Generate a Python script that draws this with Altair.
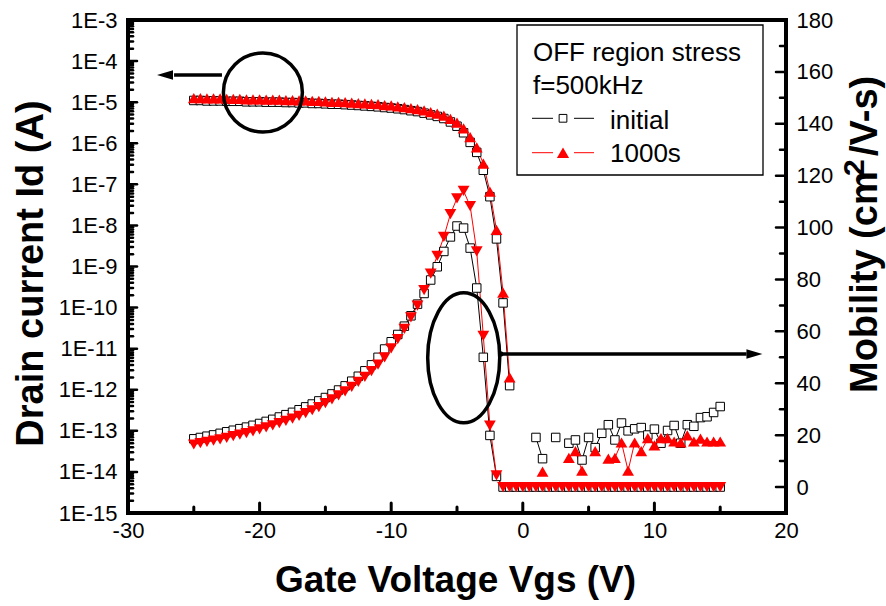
import altair as alt
import pandas as pd

# ---------------- data ----------------
VGS = [-25.0, -24.5, -24.0, -23.5, -23.0, -22.5, -22.0, -21.5, -21.0, -20.5,
       -20.0, -19.5, -19.0, -18.5, -18.0, -17.5, -17.0, -16.5, -16.0, -15.5,
       -15.0, -14.5, -14.0, -13.5, -13.0, -12.5, -12.0, -11.5, -11.0, -10.5,
       -10.0, -9.5, -9.0, -8.5, -8.0, -7.5, -7.0, -6.5, -6.0, -5.5,
       -5.0, -4.5, -4.0, -3.5, -3.0, -2.5, -2.0, -1.5, -1.0, -0.5,
       0.0, 0.5, 1.0, 1.5, 2.0, 2.5, 3.0, 3.5, 4.0, 4.5,
       5.0, 5.5, 6.0, 6.5, 7.0, 7.5, 8.0, 8.5, 9.0, 9.5,
       10.0, 10.5, 11.0, 11.5, 12.0, 12.5, 13.0, 13.5, 14.0, 14.5, 15.0]

ID_INITIAL = [1.10e-5, 1.10e-5, 1.07e-5, 1.07e-5, 1.07e-5, 1.05e-5, 1.05e-5, 1.05e-5, 1.02e-5, 1.02e-5,
              1.02e-5, 1.00e-5, 1.00e-5, 1.00e-5, 9.8e-6, 9.8e-6, 9.6e-6, 9.6e-6, 9.3e-6, 9.3e-6,
              9.1e-6, 8.9e-6, 8.9e-6, 8.7e-6, 8.5e-6, 8.3e-6, 8.1e-6, 7.9e-6, 7.7e-6, 7.4e-6,
              7.2e-6, 6.9e-6, 6.6e-6, 6.2e-6, 5.9e-6, 5.4e-6, 4.9e-6, 4.5e-6, 4.0e-6, 3.3e-6,
              2.6e-6, 1.8e-6, 1.05e-6, 6.0e-7, 2.2e-7, 5.0e-8, 4.7e-9, 1.3e-10, 1.26e-12, None,
              None, None, 6.9e-14, 2.1e-14, None, 6.9e-14, None, 5.0e-14, 6.0e-14, 1.95e-14,
              6.9e-14, 3.9e-14, 8.7e-14, 1.41e-13, 6.0e-14, 1.55e-13, 1.0e-13, 1.12e-13, 1.2e-13, 7.9e-14,
              1.1e-13, 5.0e-14, 1.02e-13, 1.35e-13, 5.0e-14, 1.41e-13, 1.29e-13, 2.1e-13, 2.2e-13, 2.8e-13, 3.9e-13]

ID_1000S = [1.26e-5, 1.26e-5, 1.23e-5, 1.23e-5, 1.23e-5, 1.20e-5, 1.20e-5, 1.20e-5, 1.17e-5, 1.17e-5,
            1.17e-5, 1.15e-5, 1.15e-5, 1.15e-5, 1.12e-5, 1.12e-5, 1.10e-5, 1.10e-5, 1.07e-5, 1.07e-5,
            1.05e-5, 1.02e-5, 1.02e-5, 1.00e-5, 9.8e-6, 9.5e-6, 9.3e-6, 9.1e-6, 8.9e-6, 8.5e-6,
            8.3e-6, 7.9e-6, 7.6e-6, 7.2e-6, 6.8e-6, 6.3e-6, 5.75e-6, 5.25e-6, 4.7e-6, 3.9e-6,
            3.16e-6, 2.3e-6, 1.41e-6, 7.9e-7, 3.2e-7, 6.6e-8, 7.8e-9, 2.3e-10, 2.0e-12, None,
            None, None, None, 1.02e-14, None, None, None, 2.2e-14, 3.2e-14, 1.07e-14,
            None, 3.2e-14, None, 2.1e-14, 2.2e-14, 5.2e-14, 1.07e-14, 5.2e-14, 3.2e-14, 6.6e-14,
            4.4e-14, 6.6e-14, 6.6e-14, 5.5e-14, 5.2e-14, 7.8e-14, 5.5e-14, 6.5e-14, 5.5e-14, 5.5e-14, 5.5e-14]

MU_INITIAL = [18.6, 19.1, 19.6, 20.1, 20.7, 21.3, 21.9, 22.5, 23.1, 23.8,
              24.5, 25.3, 26.1, 27.0, 27.9, 28.8, 29.8, 30.9, 32.0, 33.2,
              34.5, 35.9, 37.4, 39.0, 40.8, 42.7, 44.8, 47.1, 50.0, 53.2,
              56.0, 58.8, 62.0, 66.0, 70.5, 74.6, 79.8, 84.9, 90.8, 96.4,
              100.6, 99.8, 92.1, 76.7, 50.0, 19.9, 4.1, 0, 0, 0,
              0, 0, 0, 0, 0, 0, 0, 0, 0, 0,
              0, 0, 0, 0, 0, 0, 0, 0, 0, 0,
              0, 0, 0, 0, 0, 0, 0, 0, 0, 0, 0]

MU_1000S = [16.4, 16.9, 17.4, 17.9, 18.4, 19.0, 19.6, 20.2, 20.8, 21.5,
            22.2, 23.0, 23.8, 24.6, 25.5, 26.4, 27.4, 28.5, 29.6, 30.8,
            32.3, 33.8, 35.3, 36.9, 38.6, 40.5, 42.5, 44.7, 47.2, 50.0,
            53.4, 57.0, 61.0, 65.4, 69.9, 75.9, 82.3, 89.1, 96.4, 105.2,
            111.3, 114.1, 108.3, 90.8, 58.3, 23.7, 4.5, 0, 0, 0,
            0, 0, 0, 0, 0, 0, 0, 0, 0, 0,
            0, 0, 0, 0, 0, 0, 0, 0, 0, 0,
            0, 0, 0, 0, 0, 0, 0, 0, 0, 0, 0]

SERIES = ["initial", "1000s"]
LEGEND_TITLE = ["OFF region stress", "f=500kHz"]
X_TITLE = "Gate Voltage Vgs (V)"
Y_LEFT_TITLE = "Drain current Id (A)"
# right title split so that the "2" can be drawn as a superscript
Y_RIGHT_TITLE_PARTS = ["Mobility  (cm", "2", "/V-s)"]

X_TICKS = [-30, -20, -10, 0, 10, 20]
X_MINOR = [-25, -15, -5, 5, 15]
ID_DECADES = [1e-15, 1e-14, 1e-13, 1e-12, 1e-11, 1e-10, 1e-9, 1e-8, 1e-7, 1e-6, 1e-5, 1e-4, 1e-3]
ID_MINOR = [m * d for d in ID_DECADES[:-1] for m in range(2, 10)]
MU_TICKS = [0, 20, 40, 60, 80, 100, 120, 140, 160, 180]
MU_MINOR = [10, 30, 50, 70, 90, 110, 130, 150, 170]

# annotations (data coordinates)
CIRCLE_AT = {"V": [-19.75], "Id": [1.72e-5]}
ELLIPSE_AT = {"V": [-4.49], "Id": [6.0e-12]}
LEFT_ARROW = {"V": [-22.86], "V2": [-26.5], "Id": [4.6e-5], "head": [-27.19]}
RIGHT_ARROW = {"V": [-1.68], "V2": [17.0], "Id": [7.4e-12], "head": [17.6]}

W, H = 658, 493
FONT = "Liberation Sans"
RED = "#ff0000"

# ---------------- helpers ----------------
def segments(xs, ys, name):
    rows, seg, prev = [], 0, False
    for x, y in zip(xs, ys):
        if y is None:
            if prev:
                seg += 1
            prev = False
            continue
        rows.append({"V": x, "val": y, "seg": f"{name}-{seg}"})
        prev = True
    return pd.DataFrame(rows)

xscale = alt.Scale(domain=[-30, 20], nice=False, zero=False)
idscale = alt.Scale(type="log", domain=[1e-15, 1e-3], nice=False)
muscale = alt.Scale(domain=[-10, 180], nice=False, zero=False)

x_axis = alt.Axis(
    values=X_TICKS, labelExpr="'' + datum.value", labelFontSize=22, labelPadding=7,
    labelFlush=False, grid=False, ticks=False, domain=False,
    title=X_TITLE, titleFontSize=37, titleFontWeight="bold",
    titleX=327, titleY=78, titleBaseline="alphabetic", titleAlign="center")

id_axis = alt.Axis(orient="left", values=ID_DECADES,
                   labelExpr="'1E' + round(log(datum.value) / LN10)",
                   labelFontSize=22, labelPadding=11, labelFlush=False,
                   grid=False, ticks=False, domain=False,
                   title=Y_LEFT_TITLE, titleFontSize=38, titleFontWeight="bold",
                   titleAngle=270, titleX=-86, titleY=253,
                   titleBaseline="alphabetic", titleAlign="center")
mu_axis = alt.Axis(orient="right", values=MU_TICKS, labelExpr="'' + datum.value",
                   labelFontSize=22, labelPadding=10, labelFlush=False,
                   grid=False, ticks=False, domain=False, title="")

d_id_init = segments(VGS, ID_INITIAL, "ii")
d_id_1000 = segments(VGS, ID_1000S, "i1")
d_mu_init = segments(VGS, MU_INITIAL, "mi")
d_mu_1000 = segments(VGS, MU_1000S, "m1")

def line(df, scale, color, axis=None, xaxis=None):
    return alt.Chart(df).mark_line(color=color, strokeWidth=1).encode(
        x=alt.X("V:Q", scale=xscale, axis=xaxis),
        y=alt.Y("val:Q", scale=scale, axis=axis),
        detail="seg:N")

def squares(df, scale):
    return alt.Chart(df).mark_point(shape="square", filled=True, fill="white",
                                    stroke="black", strokeWidth=1, size=72, opacity=1).encode(
        x=alt.X("V:Q", scale=xscale, axis=None), y=alt.Y("val:Q", scale=scale, axis=None))

def triangles(df, scale, shape):
    return alt.Chart(df).mark_point(shape=shape, filled=True, color=RED, size=140,
                                    opacity=1, strokeWidth=0).encode(
        x=alt.X("V:Q", scale=xscale, axis=None), y=alt.Y("val:Q", scale=scale, axis=None))

def yticks(values, scale, x0, x1):
    return alt.Chart(pd.DataFrame({"t": values})).mark_rule(
        color="black", strokeWidth=2.5, strokeCap="round").encode(
        y=alt.Y("t:Q", scale=scale, axis=None), x=alt.value(x0), x2=alt.value(x1))

def xticks(values, length):
    return alt.Chart(pd.DataFrame({"t": values})).mark_rule(
        color="black", strokeWidth=3, strokeCap="round").encode(
        x=alt.X("t:Q", scale=xscale, axis=None), y=alt.value(H), y2=alt.value(H - length))

CIRCLE_PATH = "M -1 0 A 1 1 0 1 1 1 0 A 1 1 0 1 1 -1 0 Z"
ELLIPSE_PATH = "M -0.554 0 A 0.554 1 0 1 1 0.554 0 A 0.554 1 0 1 1 -0.554 0 Z"
HEAD_LEFT = "M -1 0 L 1 -0.6 L 1 0.6 Z"
HEAD_RIGHT = "M 1 0 L -1 -0.6 L -1 0.6 Z"

def outline(d, path, size):
    return alt.Chart(pd.DataFrame(d)).mark_point(
        shape=path, size=size, filled=False, stroke="black", strokeWidth=3.5, opacity=1).encode(
        x=alt.X("V:Q", scale=xscale, axis=None),
        y=alt.Y("Id:Q", scale=idscale, axis=None))

def arrow(d, path):
    df = pd.DataFrame(d)
    shaft = alt.Chart(df).mark_rule(color="black", strokeWidth=3.5).encode(
        x=alt.X("V:Q", scale=xscale, axis=None), x2="V2:Q",
        y=alt.Y("Id:Q", scale=idscale, axis=None))
    head = alt.Chart(df).mark_point(shape=path, size=256, filled=True, color="black",
                                    opacity=1, strokeWidth=0).encode(
        x=alt.X("head:Q", scale=xscale, axis=None),
        y=alt.Y("Id:Q", scale=idscale, axis=None))
    return [shaft, head]

start_dot = alt.Chart(pd.DataFrame(RIGHT_ARROW)).mark_point(
    shape="circle", size=30, filled=True, color="black", opacity=1).encode(
    x=alt.X("V:Q", scale=xscale, axis=None), y=alt.Y("Id:Q", scale=idscale, axis=None))

one = pd.DataFrame({"k": [0]})

layers = [
    line(d_id_init, idscale, "black", axis=id_axis, xaxis=x_axis),
    line(d_id_1000, idscale, RED),
    squares(d_id_init, idscale),
    triangles(d_id_1000, idscale, "triangle-up"),
    line(d_mu_init, muscale, "black", axis=mu_axis),
    line(d_mu_1000, muscale, RED),
    squares(d_mu_init, muscale),
    triangles(d_mu_1000, muscale, "triangle-down"),
    yticks(ID_DECADES, idscale, 0, 9),
    yticks(ID_MINOR, idscale, 0, 5),
    yticks(MU_TICKS, muscale, W, W - 10),
    yticks(MU_MINOR, muscale, W, W - 6),
    xticks(X_TICKS, 10),
    xticks(X_MINOR, 6),
    outline(CIRCLE_AT, CIRCLE_PATH, 6241),
    outline(ELLIPSE_AT, ELLIPSE_PATH, 16900),
    *arrow(LEFT_ARROW, HEAD_LEFT),
    *arrow(RIGHT_ARROW, HEAD_RIGHT),
    start_dot,
]

# ---------------- right axis title (with superscript) ----------------
for txt, xv, yv, fs in [(Y_RIGHT_TITLE_PARTS[0], 749, 373, 38),
                        (Y_RIGHT_TITLE_PARTS[1], 736, 156, 30),
                        (Y_RIGHT_TITLE_PARTS[2], 749, 136, 38)]:
    layers.append(alt.Chart(pd.DataFrame({"t": [txt]})).mark_text(
        align="left", baseline="alphabetic", angle=270, fontSize=fs, fontWeight="bold",
        font=FONT, color="black").encode(
        x=alt.value(xv), y=alt.value(yv), text="t:N"))

# ---------------- legend box ----------------
layers.append(alt.Chart(one).mark_rect(fill="white", stroke="black", strokeWidth=1.3).encode(
    x=alt.value(389), x2=alt.value(635), y=alt.value(5), y2=alt.value(155)))
for txt, xv, yv in [(LEGEND_TITLE[0], 405, 41), (LEGEND_TITLE[1], 405, 74),
                    (SERIES[0], 482, 109), (SERIES[1], 482, 142)]:
    layers.append(alt.Chart(pd.DataFrame({"t": [txt]})).mark_text(
        align="left", baseline="alphabetic", fontSize=26, font=FONT, color="black").encode(
        x=alt.value(xv), y=alt.value(yv), text="t:N"))
for yv, col in [(98.3, "black"), (132.7, RED)]:
    for a, b in [(404, 425), (446, 466)]:
        layers.append(alt.Chart(one).mark_rule(color=col, strokeWidth=1).encode(
            x=alt.value(a), x2=alt.value(b), y=alt.value(yv)))
layers.append(alt.Chart(one).mark_point(shape="square", filled=True, fill="white", stroke="black",
                                        strokeWidth=1, size=60, opacity=1).encode(
    x=alt.value(435), y=alt.value(98.3)))
layers.append(alt.Chart(one).mark_point(shape="triangle-up", filled=True, color=RED, size=150,
                                        opacity=1, strokeWidth=0).encode(
    x=alt.value(435), y=alt.value(132.7)))

# frame
layers.append(alt.Chart(one).mark_rect(fillOpacity=0, stroke="black", strokeWidth=4).encode(
    x=alt.value(0), x2=alt.value(W), y=alt.value(0), y2=alt.value(H)))

chart = alt.layer(*layers).resolve_scale(y="independent").resolve_axis(
    x="independent", y="independent").properties(
    width=W, height=H,
    padding={"left": 128, "top": 20, "right": 100, "bottom": 93},
    autosize=alt.AutoSizeParams(type="none"),
    background="white",
).configure_view(stroke=None).configure_axis(
    labelFont=FONT, titleFont=FONT, labelColor="black", titleColor="black",
    grid=False, domain=False, ticks=False,
).configure(font=FONT)

chart.save("out.html", embed_options={"renderer": "svg", "actions": False})
